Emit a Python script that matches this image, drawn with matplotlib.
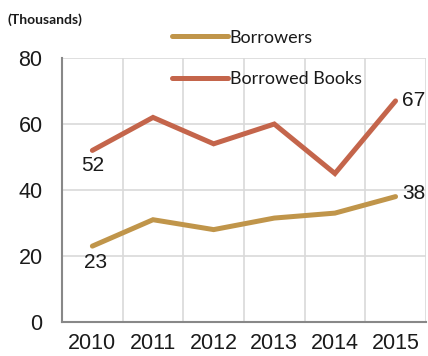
import matplotlib.pyplot as plt

years = ["2010", "2011", "2012", "2013", "2014", "2015"]
borrowers = [23, 31, 28, 31.5, 33, 38]
borrowed_books = [52, 62, 54, 60, 45, 67]
yticks = [0, 20, 40, 60, 80]

gold = "#C0954A"
red = "#C4654B"

fig = plt.figure(figsize=(4.28, 3.56), dpi=100)
ax = fig.add_axes([0.145, 0.0955, 0.85, 0.7415])

x = list(range(len(years)))
ax.plot(x, borrowers, color=gold, lw=3.6, solid_capstyle="round", solid_joinstyle="miter", label="Borrowers")
ax.plot(x, borrowed_books, color=red, lw=3.6, solid_capstyle="round", solid_joinstyle="miter", label="Borrowed Books")

ax.set_xlim(-0.5, 5.5)
ax.set_ylim(0, 80)
ax.set_yticks(yticks)
ax.set_xticks(x)
ax.set_xticklabels(years)
# gridlines sit between the categories
ax.set_xticks([i + 0.5 for i in range(-1, 6)], minor=True)
ax.grid(True, which="minor", axis="x", color="#d9d9d9", lw=1.2)
ax.grid(True, which="major", axis="y", color="#d9d9d9", lw=1.2)
ax.tick_params(which="both", length=0)
ax.tick_params(labelsize=15.5, labelcolor="#1a1a1a")
ax.tick_params(axis="y", pad=14)
ax.tick_params(axis="x", pad=8)
for lab in ax.get_xticklabels() + ax.get_yticklabels():
    lab.set_family("Liberation Sans")
ax.set_axisbelow(True)

for side in ["top", "right"]:
    ax.spines[side].set_visible(False)
for side in ["left", "bottom"]:
    ax.spines[side].set_color("#888888")
    ax.spines[side].set_linewidth(1.5)

# value labels
lab_kw = dict(fontsize=15, family="Liberation Sans", color="#1a1a1a")
ax.annotate(str(borrowed_books[0]), (0, borrowed_books[0]), xytext=(0, -4), textcoords="offset points", ha="center", va="top", **lab_kw)
ax.annotate(str(borrowers[0]), (0, borrowers[0]), xytext=(2, -5), textcoords="offset points", ha="center", va="top", **lab_kw)
ax.annotate(str(borrowed_books[-1]), (5, borrowed_books[-1]), xytext=(5, 0), textcoords="offset points", ha="left", va="center", **lab_kw)
ax.annotate(str(borrowers[-1]), (5, borrowers[-1]), xytext=(5, 2), textcoords="offset points", ha="left", va="center", **lab_kw)

fig.text(0.018, 0.944, "(Thousands)", fontsize=10, fontweight="bold", family="Lato", color="#1a1a1a", va="center")

leg = fig.legend(loc="upper left", bbox_to_anchor=(0.385, 0.937), frameon=False,
                 prop={"family": "Lato", "size": 13}, handlelength=3.1,
                 handletextpad=0.1, labelspacing=1.43, borderaxespad=0)
for t in leg.get_texts():
    t.set_color("#1a1a1a")

fig.savefig("out.png", dpi=100)
